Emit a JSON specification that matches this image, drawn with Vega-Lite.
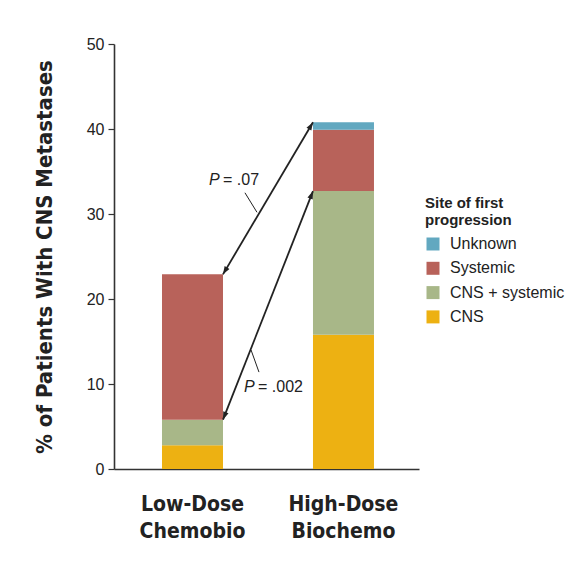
{
  "$schema": "https://vega.github.io/schema/vega-lite/v6.json",
  "width": 305,
  "height": 425,
  "padding": {"left": 33, "top": 36, "right": 5, "bottom": 5},
  "background": "white",
  "config": {"view": {"stroke": null}, "font": "Liberation Sans"},
  "datasets": {
    "bars": [
      {"regimen": "Low-Dose Chemobio", "site": "CNS", "stack_rank": 1, "pct": 2.8},
      {"regimen": "Low-Dose Chemobio", "site": "CNS + systemic", "stack_rank": 2, "pct": 3.0},
      {"regimen": "Low-Dose Chemobio", "site": "Systemic", "stack_rank": 3, "pct": 17.1},
      {"regimen": "High-Dose Biochemo", "site": "CNS", "stack_rank": 1, "pct": 15.8},
      {"regimen": "High-Dose Biochemo", "site": "CNS + systemic", "stack_rank": 2, "pct": 16.9},
      {"regimen": "High-Dose Biochemo", "site": "Systemic", "stack_rank": 3, "pct": 7.2},
      {"regimen": "High-Dose Biochemo", "site": "Unknown", "stack_rank": 4, "pct": 0.9}
    ],
    "comparisons": [
      {"from": "Low-Dose Chemobio", "to": "High-Dose Biochemo", "comparison": "total", "low_top": 22.9, "high_top": 40.8, "p_text": "= .07", "label_y": 34.0, "leader_y1": 32.5, "leader_y2": 30.2},
      {"from": "Low-Dose Chemobio", "to": "High-Dose Biochemo", "comparison": "cns", "low_top": 5.8, "high_top": 32.7, "p_text": "= .002", "label_y": 9.7, "leader_y1": 14.0, "leader_y2": 11.4}
    ]
  },
  "layer": [
    {
      "data": {"name": "bars"},
      "mark": {"type": "bar", "strokeWidth": 0},
      "encoding": {
        "x": {
          "field": "regimen", "type": "nominal",
          "sort": ["Low-Dose Chemobio", "High-Dose Biochemo"],
          "scale": {"type": "band", "domain": ["Low-Dose Chemobio", "High-Dose Biochemo"], "paddingInner": 0.596, "paddingOuter": 0.308, "align": 0.516},
          "axis": {
            "title": null, "labelAngle": 0, "ticks": false,
            "labelExpr": "split(datum.label, ' ')",
            "labelFont": "Liberation Sans Narrow, DejaVu Sans Condensed, sans-serif",
            "labelFontWeight": "bold", "labelFontSize": 21, "labelLineHeight": 27,
            "labelColor": "#222", "labelPadding": 24,
            "domainColor": "#333", "domainWidth": 1.6
          }
        },
        "y": {
          "field": "pct", "type": "quantitative", "stack": "zero",
          "scale": {"domain": [0, 50], "nice": false},
          "axis": {
            "title": "% of Patients With CNS Metastases",
            "titleFont": "Liberation Sans Narrow, DejaVu Sans Condensed, sans-serif",
            "titleFontWeight": "bold", "titleFontSize": 22, "titleColor": "#222", "titlePadding": 30,
            "values": [0, 10, 20, 30, 40, 50], "grid": false,
            "labelFontSize": 16, "labelColor": "#222", "labelPadding": 4,
            "tickSize": 6, "tickColor": "#333", "tickWidth": 1.2,
            "domainColor": "#333", "domainWidth": 1.6
          }
        },
        "color": {
          "field": "site", "type": "nominal",
          "scale": {"domain": ["Unknown", "Systemic", "CNS + systemic", "CNS"], "range": ["#62a8c0", "#b8625a", "#a8b788", "#edb112"]},
          "legend": {
            "orient": "none", "legendX": 311, "legendY": 152,
            "title": ["Site of first", "progression"],
            "titleFontSize": 15, "titleFontWeight": "bold", "titleColor": "#222", "titleLineHeight": 17, "titlePadding": 8,
            "labelFontSize": 16, "labelColor": "#222", "labelOffset": 9,
            "symbolType": "square", "symbolSize": 169, "symbolStrokeWidth": 0, "rowPadding": 8.3
          }
        },
        "order": {"field": "stack_rank", "type": "quantitative"}
      }
    },
    {
      "data": {"name": "comparisons"},
      "mark": {"type": "rule", "color": "#222", "strokeWidth": 1.8},
      "encoding": {
        "x": {"field": "from", "type": "nominal", "bandPosition": 1, "sort": ["Low-Dose Chemobio", "High-Dose Biochemo"]},
        "x2": {"field": "to", "bandPosition": 0},
        "y": {"field": "low_top", "type": "quantitative"},
        "y2": {"field": "high_top"}
      }
    },
    {
      "data": {"name": "comparisons"},
      "transform": [{"filter": "datum.comparison == 'total'"}],
      "layer": [
        {"mark": {"type": "point", "shape": "M0,0L-0.35,1L0.35,1Z", "filled": true, "color": "#222", "opacity": 1, "size": 256, "angle": 210.5},
         "encoding": {"x": {"field": "from", "type": "nominal", "bandPosition": 1, "sort": ["Low-Dose Chemobio", "High-Dose Biochemo"]}, "y": {"field": "low_top", "type": "quantitative"}}},
        {"mark": {"type": "point", "shape": "M0,0L-0.35,1L0.35,1Z", "filled": true, "color": "#222", "opacity": 1, "size": 256, "angle": 30.5},
         "encoding": {"x": {"field": "to", "type": "nominal", "bandPosition": 0, "sort": ["Low-Dose Chemobio", "High-Dose Biochemo"]}, "y": {"field": "high_top", "type": "quantitative"}}},
        {"mark": {"type": "text", "text": "P", "fontStyle": "italic", "fontSize": 16, "color": "#222", "align": "left", "baseline": "middle", "dx": -14},
         "encoding": {"x": {"field": "from", "type": "nominal", "bandPosition": 1, "sort": ["Low-Dose Chemobio", "High-Dose Biochemo"]}, "y": {"field": "label_y", "type": "quantitative"}}},
        {"mark": {"type": "text", "fontSize": 16, "color": "#222", "align": "left", "baseline": "middle", "dx": 0},
         "encoding": {"x": {"field": "from", "type": "nominal", "bandPosition": 1, "sort": ["Low-Dose Chemobio", "High-Dose Biochemo"]}, "y": {"field": "label_y", "type": "quantitative"}, "text": {"field": "p_text"}}},
        {"mark": {"type": "rule", "color": "#222", "strokeWidth": 1},
         "encoding": {"x": {"field": "from", "type": "nominal", "bandPosition": 1.36, "sort": ["Low-Dose Chemobio", "High-Dose Biochemo"]}, "x2": {"field": "from", "bandPosition": 1.557}, "y": {"field": "leader_y1", "type": "quantitative"}, "y2": {"field": "leader_y2"}}}
      ]
    },
    {
      "data": {"name": "comparisons"},
      "transform": [{"filter": "datum.comparison == 'cns'"}],
      "layer": [
        {"mark": {"type": "point", "shape": "M0,0L-0.35,1L0.35,1Z", "filled": true, "color": "#222", "opacity": 1, "size": 256, "angle": 201.2},
         "encoding": {"x": {"field": "from", "type": "nominal", "bandPosition": 1, "sort": ["Low-Dose Chemobio", "High-Dose Biochemo"]}, "y": {"field": "low_top", "type": "quantitative"}}},
        {"mark": {"type": "point", "shape": "M0,0L-0.35,1L0.35,1Z", "filled": true, "color": "#222", "opacity": 1, "size": 256, "angle": 21.2},
         "encoding": {"x": {"field": "to", "type": "nominal", "bandPosition": 0, "sort": ["Low-Dose Chemobio", "High-Dose Biochemo"]}, "y": {"field": "high_top", "type": "quantitative"}}},
        {"mark": {"type": "text", "text": "P", "fontStyle": "italic", "fontSize": 16, "color": "#222", "align": "left", "baseline": "middle", "dx": 21},
         "encoding": {"x": {"field": "from", "type": "nominal", "bandPosition": 1, "sort": ["Low-Dose Chemobio", "High-Dose Biochemo"]}, "y": {"field": "label_y", "type": "quantitative"}}},
        {"mark": {"type": "text", "fontSize": 16, "color": "#222", "align": "left", "baseline": "middle", "dx": 35},
         "encoding": {"x": {"field": "from", "type": "nominal", "bandPosition": 1, "sort": ["Low-Dose Chemobio", "High-Dose Biochemo"]}, "y": {"field": "label_y", "type": "quantitative"}, "text": {"field": "p_text"}}},
        {"mark": {"type": "rule", "color": "#222", "strokeWidth": 1},
         "encoding": {"x": {"field": "from", "type": "nominal", "bandPosition": 1.46, "sort": ["Low-Dose Chemobio", "High-Dose Biochemo"]}, "x2": {"field": "from", "bandPosition": 1.59}, "y": {"field": "leader_y1", "type": "quantitative"}, "y2": {"field": "leader_y2"}}}
      ]
    }
  ]
}
